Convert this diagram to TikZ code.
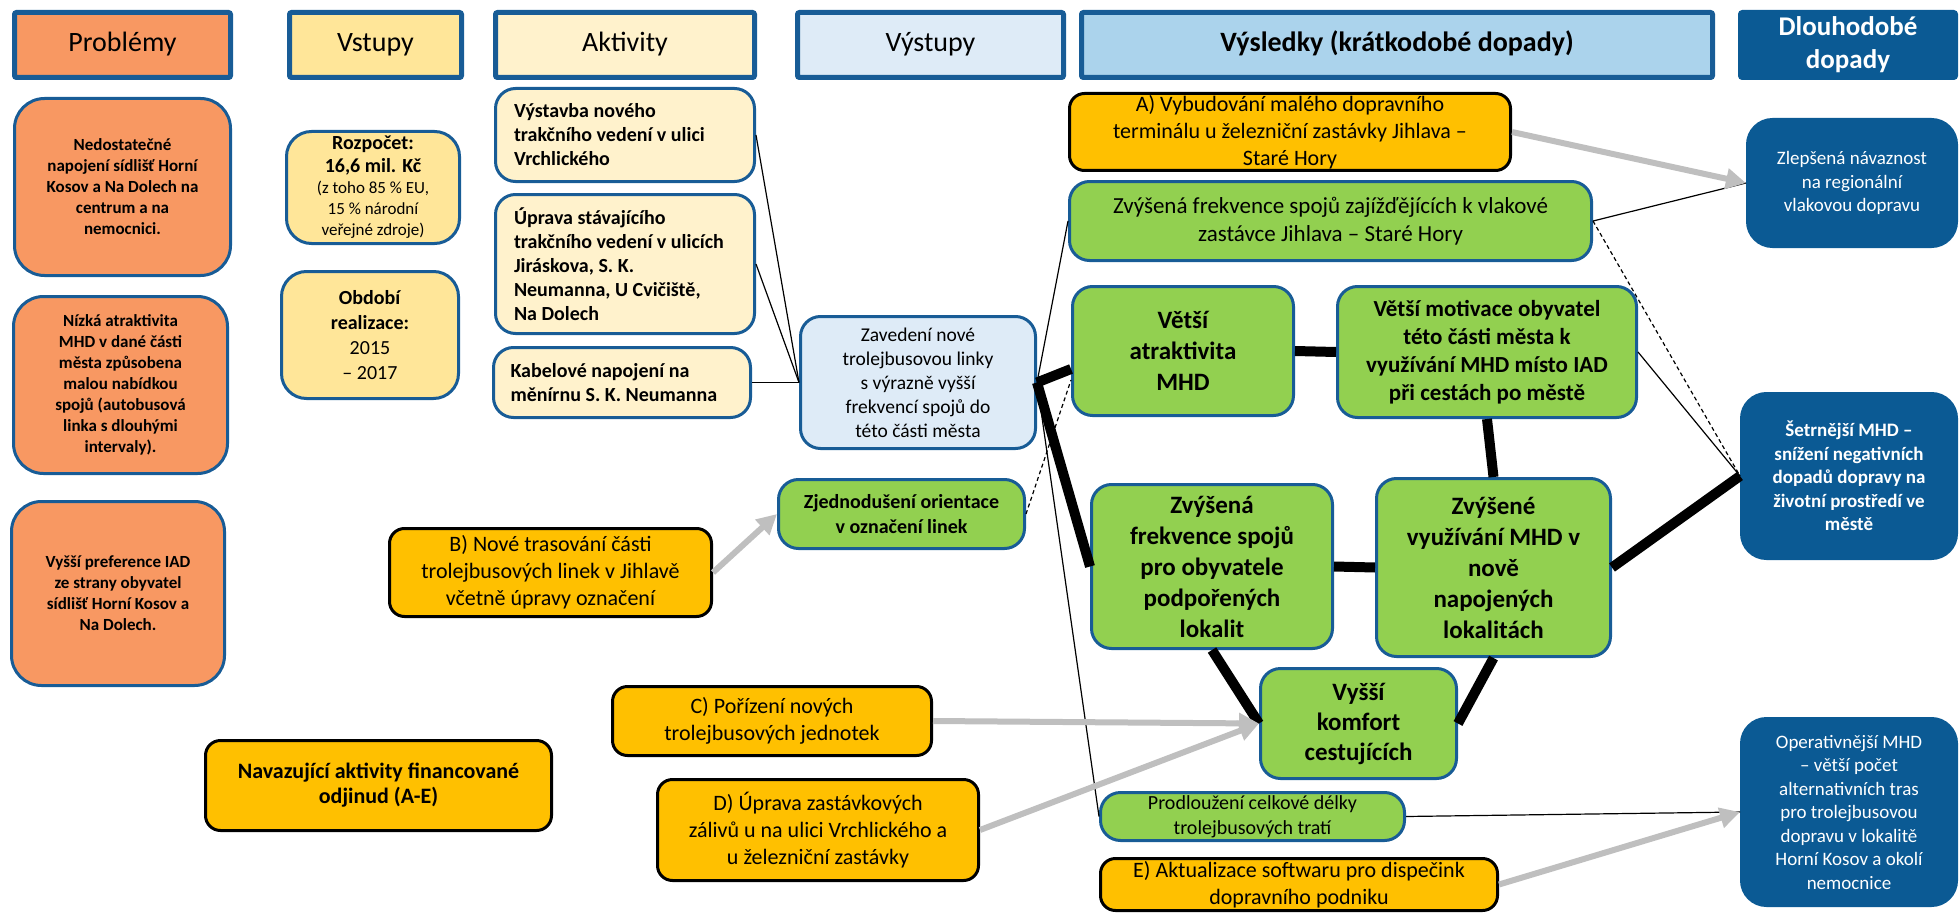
\documentclass[tikz,border=0pt]{standalone}
\usepackage{fontspec}
\setmainfont{Carlito}
\usepackage{xcolor}
\usepackage{tikz}
\usetikzlibrary{arrows.meta,positioning,calc}

\definecolor{lfborder}{RGB}{24,92,150}
\definecolor{lfnavy}{RGB}{11,90,148}
\definecolor{lforange}{RGB}{248,152,98}
\definecolor{lfsand}{RGB}{255,230,153}
\definecolor{lfcream}{RGB}{255,242,204}
\definecolor{lfice}{RGB}{222,235,247}
\definecolor{lfsky}{RGB}{171,211,236}
\definecolor{lfgreen}{RGB}{146,208,80}
\definecolor{lfgold}{RGB}{255,192,0}
\definecolor{lfgrey}{RGB}{191,191,191}

\newcommand{\lfsize}[2]{\fontsize{#1}{#2}\selectfont}

\tikzset{
  lf header/.style={
    rectangle,
    rounded corners=2pt,
    line width=5pt,
    draw=lfborder,
    inner sep=0pt,
    align=center,
    font=\lfsize{28}{33},
  },
  lf strut/.style={text height=19pt, text depth=6pt},
  lf box/.style={
    rectangle,
    rounded corners=20pt,
    line width=3pt,
    draw=lfborder,
    inner sep=0pt,
    align=center,
  },
  lf problem/.style={lf box, rounded corners=30pt, fill=lforange, font=\bfseries\lfsize{17}{21}},
  lf input/.style={lf box, rounded corners=25pt, fill=lfsand},
  lf activity/.style={lf box, fill=lfcream, align=flush left, font=\bfseries\lfsize{20}{24}},
  lf output/.style={lf box, fill=lfice},
  lf result/.style={lf box, fill=lfgreen},
  lf other/.style={lf box, rounded corners=15pt, draw=black, fill=lfgold, font=\lfsize{22}{27}},
  lf impact/.style={lf box, rounded corners=25pt, draw=lfnavy, fill=lfnavy, text=white, font=\lfsize{19}{23.5}},
  wh/.style 2 args={minimum width=#1pt, minimum height=#2pt},
  lf link/.style={line width=1.2pt},
  lf strong/.style={line width=10pt},
  lf hint/.style={line width=1.2pt, dash pattern=on 4pt off 3pt},
  lf arrow/.style={line width=6pt, draw=lfgrey, -{Triangle[length=20pt,width=20pt]}},
}

\begin{document}
\begin{tikzpicture}[x=1pt, y=-1pt]
  \useasboundingbox (0,0) rectangle (1960,915);

  % column headers
  \node[lf header, lf strut, wh={216}{65}, fill=lforange] (hprob) at (122.5,45) {Problémy};
  \node[lf header, lf strut, wh={172}{65}, fill=lfsand, right=54pt of hprob] (hvst) {Vstupy};
  \node[lf header, lf strut, wh={259}{65}, fill=lfcream, right=29pt of hvst] (hakt) {Aktivity};
  \node[lf header, lf strut, wh={266}{65}, fill=lfice, right=38pt of hakt] (hvyst) {Výstupy};
  \node[lf header, lf strut, wh={631}{65}, fill=lfsky, right=13pt of hvyst, font=\bfseries\lfsize{28}{33}] (hvysl) {Výsledky (krátkodobé dopady)};
  \node[lf header, wh={215}{65}, draw=lfnavy, fill=lfnavy, text=white, right=23pt of hvysl, font=\bfseries\lfsize{27}{33}] (hdlouh) {Dlouhodobé\\dopady};

  \node[lf problem, wh={216}{177}] (p1) at (122.5,187) {Nedostatečné\\napojení sídlišť Horní\\Kosov a Na Dolech na\\centrum a na\\nemocnici.};
  \node[lf problem, wh={214}{177}] (p2) at (120.5,385) {Nízká atraktivita\\MHD v dané části\\města způsobena\\malou nabídkou\\spojů (autobusová\\linka s dlouhými\\intervaly).};
  \node[lf problem, wh={213}{184}] (p3) at (118,593.5) {Vyšší preference IAD\\ze strany obyvatel\\sídlišť Horní Kosov a\\Na Dolech.};

  \node[lf input, wh={173}{112}, font=\bfseries\lfsize{20}{23}] (rozp) at (373,187.5) {Rozpočet:\\16,6 mil. Kč\\[-2pt]{\mdseries\lfsize{17}{20}(z toho 85 \% EU,}\\[-2pt]{\mdseries\lfsize{17}{20}15 \% národní}\\[-2pt]{\mdseries\lfsize{17}{20}veřejné zdroje)}};
  \node[lf input, wh={177}{127}, font=\lfsize{20}{25}] (obd) at (370,335) {\textbf{Období}\\\textbf{realizace:}\\2015\\– 2017};

  \node[lf activity, wh={259}{93}, text width=222pt, inner xsep=18.5pt] (a1) at (625,135) {Výstavba nového\\trakčního vedení v ulici\\Vrchlického};
  \node[lf activity, wh={259}{139}, text width=222pt, inner xsep=18.5pt] (a2) at (625,264) {Úprava stávajícího\\trakčního vedení v ulicích\\Jiráskova, S. K.\\Neumanna, U Cvičiště,\\Na Dolech};
  \node[lf activity, wh={257}{70}, text width=223pt, inner xsep=17pt] (a3) at (622,382.5) {Kabelové napojení na\\měnírnu S. K. Neumanna};

  \node[lf output, wh={235}{132}, font=\lfsize{19.5}{24}] (zav) at (918,382.5) {Zavedení nové\\trolejbusovou linky\\s výrazně vyšší\\frekvencí spojů do\\této části města};

  \node[lf result, wh={246}{69}, font=\bfseries\lfsize{20}{25}] (zjed) at (901.5,514) {Zjednodušení orientace\\v označení linek};
  \node[lf result, wh={304}{48}, font=\lfsize{20}{25}] (prodl) at (1252.5,816.5) {Prodloužení celkové délky\\trolejbusových tratí};
  \node[lf result, wh={522}{79}, font=\lfsize{23}{28}] (zvfreq) at (1330.5,221) {Zvýšená frekvence spojů zajížďějících k vlakové\\zastávce Jihlava – Staré Hory};
  \node[lf result, wh={221}{129}, font=\bfseries\lfsize{25}{31}] (atrakt) at (1183,351) {Větší\\atraktivita\\MHD};
  \node[lf result, wh={299}{131}, font=\bfseries\lfsize{23}{28}] (motiv) at (1487,352) {Větší motivace obyvatel\\této části města k\\využívání MHD místo IAD\\při cestách po městě};
  \node[lf result, wh={241}{164}, font=\bfseries\lfsize{25}{31}] (zfs) at (1212,566.5) {Zvýšená\\frekvence spojů\\pro obyvatele\\podpořených\\lokalit};
  \node[lf result, wh={234}{178}, font=\bfseries\lfsize{25}{31}] (vyuz) at (1493.5,567.5) {Zvýšené\\využívání MHD v\\nově\\napojených\\lokalitách};
  \node[lf result, wh={196}{110}, font=\bfseries\lfsize{25}{30}] (komf) at (1358.5,723.5) {Vyšší\\komfort\\cestujících};

  % activities financed elsewhere
  \node[lf other, wh={441}{77}] (ota) at (1290,132) {A) Vybudování malého dopravního\\terminálu u železniční zastávky Jihlava –\\Staré Hory};
  \node[lf other, wh={322}{88}] (otb) at (550.5,572.5) {B) Nové trasování části\\trolejbusových linek v Jihlavě\\včetně úpravy označení};
  \node[lf other, wh={319}{69}] (otc) at (772,721) {C) Pořízení nových\\trolejbusových jednotek};
  \node[lf other, wh={321}{101}] (otd) at (818,830) {D) Úprava zastávkových\\zálivů u na ulici Vrchlického a\\u železniční zastávky};
  \node[lf other, wh={397}{52}] (ote) at (1299,884.5) {E) Aktualizace softwaru pro dispečink\\dopravního podniku};
  \node[lf other, wh={346}{90}, font=\bfseries\lfsize{22}{25}] (nav) at (378.5,785.5) {Navazující aktivity financované\\odjinud (A-E)};

  \node[lf impact, wh={209}{127}] (zlep) at (1852,183) {Zlepšená návaznost\\na regionální\\vlakovou dopravu};
  \node[lf impact, wh={215}{165}, font=\bfseries\lfsize{19}{23.5}] (setr) at (1849,476) {Šetrnější MHD –\\snížení negativních\\dopadů dopravy na\\životní prostředí ve\\městě};
  \node[lf impact, wh={215}{187}] (oper) at (1849,812) {Operativnější MHD\\– větší počet\\alternativních tras\\pro trolejbusovou\\dopravu v lokalitě\\Horní Kosov a okolí\\nemocnice};

  \draw[lf link] (a1.east) -- (zav.west);
  \draw[lf link] (a2.east) -- (zav.west);
  \draw[lf link] (a3.east) -- (zav.west);

  \draw[lf link] (zav.east) -- (zvfreq.west);
  \draw[lf strong] (zav.east) -- ([yshift=-18pt]atrakt.west);
  \draw[lf strong] (zav.east) -- (zfs.west);
  \draw[lf link] (zav.east) -- (prodl.west);
  \draw[lf hint] (zjed.east) -- ([yshift=-29pt]atrakt.west);

  \draw[lf strong] (atrakt.east) -- (motiv.west);
  \draw[lf strong] (motiv.south) -- (vyuz.north);
  \draw[lf strong] (zfs.east) -- (vyuz.west);
  \draw[lf strong] (zfs.south) -- (komf.west);
  \draw[lf strong] (vyuz.south) -- (komf.east);
  \draw[lf strong] (vyuz.east) -- (setr.west);

  \draw[lf link] (zvfreq.east) -- (zlep.west);
  \draw[lf hint] (zvfreq.east) -- (setr.west);
  \draw[lf link] (motiv.east) -- (setr.west);
  \draw[lf link] (prodl.east) -- (oper.west);

  \draw[lf arrow] (ota.east) -- (zlep.west);
  \draw[lf arrow] (otb.east) -- (zjed.west);
  \draw[lf arrow] (otc.east) -- (komf.west);
  \draw[lf arrow] (otd.east) -- (komf.west);
  \draw[lf arrow] (ote.east) -- (oper.west);
\end{tikzpicture}
\end{document}
